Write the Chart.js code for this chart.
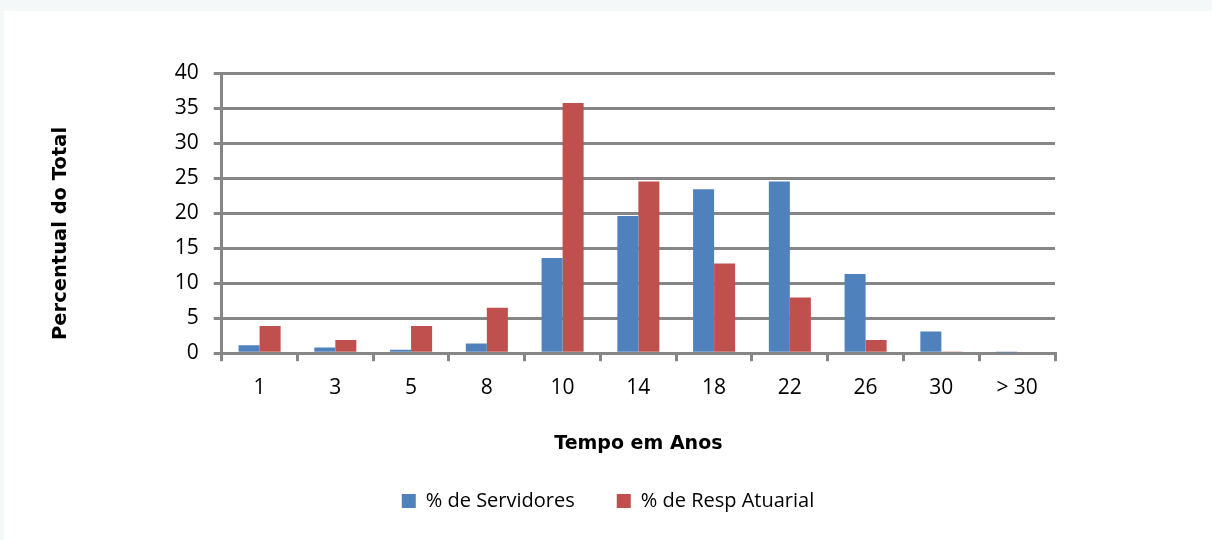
<!DOCTYPE html>
<html>
<head>
<meta charset="utf-8">
<script src="https://cdn.jsdelivr.net/npm/chart.js@4"></script>
<style>
  body { margin: 0; background: #f4f8f8; }
  #wrap { position: absolute; left: 4px; top: 11px; width: 1208px; height: 529px; background: #ffffff; }
</style>
</head>
<body>
<div id="wrap"><canvas id="chart" width="1208" height="529"></canvas></div>
<script>
// data
const categories = ['1', '3', '5', '8', '10', '14', '18', '22', '26', '30', '> 30'];
const servidores = [1.15, 0.8, 0.5, 1.4, 13.6, 19.6, 23.4, 24.5, 11.3, 3.1, 0.1];
const respAtuarial = [3.9, 1.9, 3.9, 6.5, 35.7, 24.5, 12.8, 7.95, 1.9, 0.25, 0.2];

const gridGray = '#868686';
const textFont = '"Open Sans", sans-serif';
const titleFont = '"DejaVu Sans", sans-serif';

// the y title sits a bit below the axis middle in the original, trailing nbsp pushes it down
const yTitle = 'Percentual do Total' + '\u00a0'.repeat(6);

const ctx = document.getElementById('chart').getContext('2d');
const chart = new Chart(ctx, {
  type: 'bar',
  data: {
    labels: categories,
    datasets: [
      { label: '% de Servidores', data: servidores, backgroundColor: '#4f81bd' },
      { label: '% de Resp Atuarial', data: respAtuarial, backgroundColor: '#c0504d' }
    ]
  },
  options: {
    responsive: false,
    animation: false,
    categoryPercentage: 0.555,
    barPercentage: 1.0,
    layout: { padding: { top: 62, right: 0, left: 0, bottom: 19 } },
    plugins: {
      tooltip: { enabled: false },
      legend: {
        position: 'bottom',
        labels: {
          color: '#000',
          font: { family: textFont, size: 20 },
          boxWidth: 14,
          boxHeight: 14,
          padding: 42
        }
      }
    },
    scales: {
      x: {
        afterFit: (scale) => { scale.height = 95.8; },
        grid: { offset: true, drawOnChartArea: false, color: gridGray, lineWidth: 3, tickLength: 8 },
        border: { color: gridGray, width: 3 },
        ticks: { color: '#000', font: { family: textFont, size: 21 }, padding: 14, maxRotation: 0 },
        title: {
          display: true,
          text: 'Tempo em Anos',
          color: '#000',
          font: { family: titleFont, size: 19, weight: 'bold' },
          padding: { top: 0, bottom: -6 }
        }
      },
      y: {
        min: 0,
        max: 40,
        afterFit: (scale) => { scale.width = 217.7; },
        grid: { color: gridGray, lineWidth: 3, tickLength: 8 },
        border: { color: gridGray, width: 3 },
        ticks: { stepSize: 5, color: '#000', font: { family: textFont, size: 21 }, padding: 15 },
        title: {
          display: true,
          text: yTitle,
          color: '#000',
          font: { family: titleFont, size: 19.5, weight: 'bold' },
          padding: 45
        }
      },
      // empty right-hand axis only keeps the plot's right margin, so the legend stays centred on the page
      yRight: {
        position: 'right',
        afterFit: (scale) => { scale.width = 157; },
        grid: { display: false },
        border: { display: false },
        ticks: { display: false }
      }
    }
  }
});
</script>
</body>
</html>
